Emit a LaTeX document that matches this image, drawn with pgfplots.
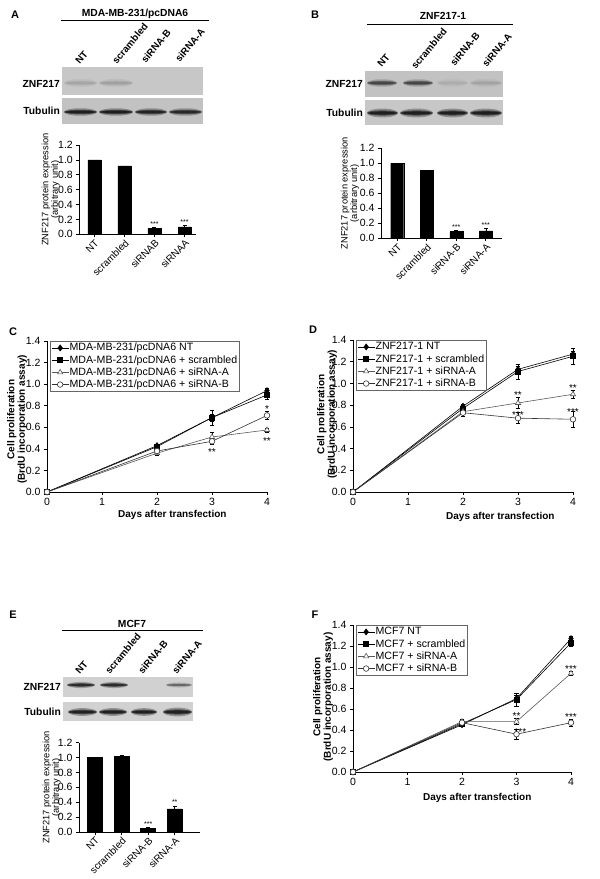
\documentclass[border=0pt]{standalone}
\usepackage{fontspec}
\setmainfont{Liberation Sans}
\usepackage{pgfplots}
\pgfplotsset{compat=1.18}
\newcommand{\fs}[1]{\fontsize{#1}{#1}\selectfont}
\pgfplotsset{
  common/.style={
    scale only axis, anchor=south west, clip=false,
    axis x line=bottom, axis y line=left,
    axis line style={-, line width=0.8pt, black},
    tick align=outside, major tick length=3pt,
    tick style={black, line width=0.6pt},
    tick label style={font=\fs{10.5}},
    /pgf/number format/assume math mode=true,
    yticklabel style={/pgf/number format/.cd, fixed, fixed zerofill, precision=1},
    ymin=0,
  },
  barax/.style={common, ymax=1.2, ytick={0,0.2,0.4,0.6,0.8,1.0,1.2},
    xtick={0,1,2,3},
    xticklabel style={rotate=45, anchor=north east, inner sep=1pt, font=\fs{10}},
    ylabel={ZNF217 protein expression\\(arbitrary unit)},
    ylabel style={align=center, font=\fontsize{9.3}{9.6}\selectfont, anchor=center},
  },
  lineax/.style={common, xmin=0, xmax=4, ymax=1.4,
    xtick={0,1,2,3,4}, ytick={0,0.2,0.4,0.6,0.8,1.0,1.2,1.4},
    xlabel={Days after transfection}, xlabel style={font=\bfseries\fs{10}, anchor=center},
    ylabel={Cell proliferation\\(BrdU incorporation assay)},
    ylabel style={align=center, font=\bfseries\fontsize{10}{10.5}\selectfont, anchor=center},
    legend style={at={(0.014,1)}, anchor=north west, draw=black!60, line width=0.5pt, fill=white, font=\fs{10.6}, row sep=0.8pt, inner sep=1pt, nodes={inner sep=0.6pt, text height=8pt, text depth=2.2pt}},
    legend cell align=left,
  },
  nt/.style={black, line width=0.6pt, mark=diamond*, mark size=3pt, mark options={fill=black, solid}},
  sc/.style={black, line width=0.6pt, mark=square*, mark size=2.5pt, mark options={fill=black, solid}},
  sa/.style={black!65, line width=0.6pt, mark=triangle*, mark size=3pt, mark options={fill=white, draw=black!65, solid}},
  sb/.style={black!80, line width=0.6pt, mark=*, mark size=2.8pt, mark options={fill=white, draw=black!80, solid}},
  eb/.style={error bars/.cd, y dir=both, y explicit, error bar style={black, line width=0.5pt}, error mark options={rotate=90, mark size=2.2pt, black, line width=0.5pt}},
  bb/.style={ybar, fill=black, draw=black, error bars/.cd, y dir=plus, y explicit, error bar style={black, line width=0.5pt}, error mark options={rotate=90, mark size=2pt, black, line width=0.5pt}},
}
% band: x1 x2 y halfheight strength
\newcommand{\band}[5]{%
  \pgfmathsetmacro\bx{(#1+#2)/2}%
  \pgfmathsetmacro\brx{(#2-#1)/2}%
  \pgfmathsetmacro\brxb{(#2-#1)/2*0.92}%
  \pgfmathsetmacro\bya{#4*1.7}%
  \pgfmathsetmacro\byc{#4*0.6}%
  \pgfmathsetmacro\oa{#5*0.3}%
  \pgfmathsetmacro\ob{#5*0.5}%
  \pgfmathsetmacro\oc{#5*0.6}%
  \fill[black, opacity=\oa] (\bx,#3) ellipse [x radius=\brx pt, y radius=\bya pt];
  \fill[black, opacity=\ob] (\bx,#3) ellipse [x radius=\brx pt, y radius=#4 pt];
  \fill[black, opacity=\oc] (\bx,#3) ellipse [x radius=\brxb pt, y radius=\byc pt];
}
\begin{document}
\begin{tikzpicture}[x=1pt,y=1pt]
\path[use as bounding box] (0,0) rectangle (600,879);
% ---------- panel letters ----------
\node[font=\bfseries\fs{11}] at (15,864) {A};
\node[font=\bfseries\fs{11}] at (315,864) {B};
\node[font=\bfseries\fs{11}] at (13,547) {C};
\node[font=\bfseries\fs{11}] at (313,549) {D};
\node[font=\bfseries\fs{11}] at (13,264) {E};
\node[font=\bfseries\fs{11}] at (315,264) {F};
% ---------- titles ----------
\node[font=\bfseries\fs{10.3}] at (135,865) {MDA-MB-231/pcDNA6};
\draw[line width=0.7pt] (61,858.3) -- (209,858.3);
\node[font=\bfseries\fs{10.3}] at (443,863.5) {ZNF217-1};
\draw[line width=0.7pt] (367,855) -- (513,855);
\node[font=\bfseries\fs{10.3}] at (132,255.5) {MCF7};
\draw[line width=0.7pt] (62,249) -- (203,249);
% ---------- lane labels ----------
\begin{scope}[every node/.style={rotate=50, anchor=south west, font=\bfseries\fs{9.8}, inner sep=0pt}]
\node at (80,814) {NT}; \node at (117,814) {scrambled}; \node at (146,815) {siRNA-B}; \node at (180,816) {siRNA-A};
\node at (382,811) {NT}; \node at (416,809) {scrambled}; \node at (455,812) {siRNA-B}; \node at (487,811) {siRNA-A};
\node at (80,204) {NT}; \node at (110,204) {scrambled}; \node at (143,204) {siRNA-B}; \node at (177,204) {siRNA-A};
\end{scope}
% ---------- blot labels ----------
\begin{scope}[every node/.style={anchor=east, font=\bfseries\fs{10.3}, inner sep=1pt}]
\node at (61,795) {ZNF217}; \node at (61,768) {Tubulin};
\node at (364,795) {ZNF217}; \node at (364,766) {Tubulin};
\node at (62,192) {ZNF217}; \node at (62,167) {Tubulin};
\end{scope}
% ---------- blots ----------
\fill[black!22] (62,784) rectangle (203,812);
\fill[black!24] (62,755) rectangle (203,781);
\band{64}{97}{796}{2.5}{0.12}\band{99}{133}{796}{2.5}{0.14}
\band{64}{97}{767}{2.2}{0.95}\band{99}{133}{767}{2.2}{0.95}\band{135}{167}{767}{2.2}{0.9}\band{169}{202}{767}{2.2}{0.85}
\fill[black!24] (365,782) rectangle (503,808);
\fill[black!22] (365,754) rectangle (503,779);
\band{367}{397}{796}{2.2}{0.6}\band{403}{433}{796}{2.2}{0.6}\band{437}{468}{796}{2.5}{0.08}\band{470}{502}{796}{2.5}{0.12}
\band{367}{398}{766}{2.6}{0.95}\band{400}{433}{766}{2.6}{0.95}\band{437}{468}{766}{2.6}{0.95}\band{470}{502}{766}{2.6}{0.95}
\fill[black!18] (63,182) rectangle (193,202);
\fill[black!18] (63,158) rectangle (193,177);
\band{67}{95}{194}{1.8}{0.85}\band{100}{128}{194}{1.8}{0.85}\band{166}{192}{194}{1.5}{0.45}
\band{68}{97}{167}{2.3}{0.95}\band{99}{127}{167}{2.3}{0.95}\band{131}{157}{167}{2.3}{0.95}\band{163}{192}{167}{2.6}{0.95}
% ---------- bar chart A ----------
\begin{axis}[barax, at={(79.3pt,644.7pt)}, width=116.7pt, height=89.3pt, xmin=-0.5, xmax=3.38,
  xticklabels={NT,scrambled,siRNAB,siRNAA},
  ylabel style={at={(axis description cs:-0.245,0.5)}}]
\addplot[bar width=13pt, bb] coordinates {(0,1.00) +- (0,0) (1,0.92) +- (0,0) (2,0.08) +- (0,0.02) (3,0.10) +- (0,0.02)};
\node[font=\fs{7}] at (axis cs:2,0.14) {***};
\node[font=\fs{7}] at (axis cs:3,0.16) {***};
\end{axis}
% ---------- bar chart B ----------
\begin{axis}[barax, at={(381pt,640.7pt)}, width=120.7pt, height=90pt, xmin=-0.55, xmax=3.54,
  xticklabels={NT,scrambled,siRNA-B,siRNA-A},
  ylabel style={at={(axis description cs:-0.257,0.5)}}]
\addplot[bar width=13pt, bb] coordinates {(0,1.00) +- (0,0) (1,0.91) +- (0,0) (2,0.09) +- (0,0.02) (3,0.10) +- (0,0.03)};
\node[font=\fs{7}] at (axis cs:2,0.15) {***};
\node[font=\fs{7}] at (axis cs:3,0.17) {***};
\end{axis}
% ---------- bar chart E ----------
\begin{axis}[barax, at={(79pt,47pt)}, width=121pt, height=89.3pt, xmin=-0.6, xmax=3.95,
  xticklabels={NT,scrambled,siRNA-B,siRNA-A},
  ylabel style={at={(axis description cs:-0.225,0.5)}}]
\addplot[bar width=15pt, bb] coordinates {(0,1.00) +- (0,0) (1,1.02) +- (0,0.01) (2,0.05) +- (0,0.02) (3,0.31) +- (0,0.04)};
\node[font=\fs{7}] at (axis cs:2,0.11) {***};
\node[font=\fs{7}] at (axis cs:3,0.40) {**};
\end{axis}
% ---------- line chart C ----------
\begin{axis}[lineax, at={(47pt,387pt)}, width=220pt, height=151pt,
  xlabel style={at={(axis description cs:0.57,-0.15)}},
  ylabel style={at={(axis description cs:-0.136,0.48)}}]
\addplot[nt, eb] coordinates {(0,0)+-(0,0) (2,0.43)+-(0,0.01) (3,0.69)+-(0,0.03) (4,0.94)+-(0,0.02)};
\addplot[sc, eb] coordinates {(0,0)+-(0,0.02) (2,0.42)+-(0,0.01) (3,0.69)+-(0,0.07) (4,0.90)+-(0,0.04)};
\addplot[sa, eb] coordinates {(0,0)+-(0,0) (2,0.36)+-(0,0.02) (3,0.51)+-(0,0.04) (4,0.575)+-(0,0.02)};
\addplot[sb, eb] coordinates {(0,0)+-(0,0) (2,0.38)+-(0,0.02) (3,0.47)+-(0,0.03) (4,0.71)+-(0,0.04)};
\legend{MDA-MB-231/pcDNA6 NT, MDA-MB-231/pcDNA6 + scrambled, MDA-MB-231/pcDNA6 + siRNA-A, MDA-MB-231/pcDNA6 + siRNA-B}
\node[font=\fs{10}] at (axis cs:4,0.77) {*};
\node[font=\fs{10}] at (axis cs:3,0.37) {**};
\node[font=\fs{10}] at (axis cs:4,0.47) {**};
\end{axis}
% ---------- line chart D ----------
\begin{axis}[lineax, at={(353pt,387pt)}, width=220pt, height=152pt,
  xlabel style={at={(axis description cs:0.67,-0.164)}},
  ylabel style={at={(axis description cs:-0.118,0.51)}}]
\addplot[nt, eb] coordinates {(0,0)+-(0,0) (2,0.79)+-(0,0.02) (3,1.13)+-(0,0.03) (4,1.27)+-(0,0.03)};
\addplot[sc, eb] coordinates {(0,0)+-(0,0.02) (2,0.77)+-(0,0.03) (3,1.11)+-(0,0.07) (4,1.25)+-(0,0.07)};
\addplot[sa, eb] coordinates {(0,0)+-(0,0) (2,0.74)+-(0,0.02) (3,0.82)+-(0,0.05) (4,0.90)+-(0,0.04)};
\addplot[sb, eb] coordinates {(0,0)+-(0,0) (2,0.73)+-(0,0.03) (3,0.68)+-(0,0.05) (4,0.67)+-(0,0.07)};
\legend{ZNF217-1 NT, ZNF217-1 + scrambled, ZNF217-1 + siRNA-A, ZNF217-1 + siRNA-B}
\node[font=\fs{10}] at (axis cs:3,0.89) {**};
\node[font=\fs{10}] at (axis cs:3,0.71) {***};
\node[font=\fs{10}] at (axis cs:4,0.955) {**};
\node[font=\fs{10}] at (axis cs:4,0.74) {***};
\end{axis}
% ---------- line chart F ----------
\begin{axis}[lineax, at={(353pt,107pt)}, width=218pt, height=147pt,
  xlabel style={at={(axis description cs:0.57,-0.177)}},
  ylabel style={at={(axis description cs:-0.138,0.51)}}]
\addplot[nt, eb] coordinates {(0,0)+-(0,0) (2,0.45)+-(0,0.01) (3,0.70)+-(0,0.03) (4,1.27)+-(0,0.02)};
\addplot[sc, eb] coordinates {(0,0)+-(0,0) (2,0.46)+-(0,0.02) (3,0.69)+-(0,0.06) (4,1.23)+-(0,0.03)};
\addplot[sa, eb] coordinates {(0,0)+-(0,0) (2,0.48)+-(0,0.02) (3,0.48)+-(0,0.03) (4,0.94)+-(0,0.02)};
\addplot[sb, eb] coordinates {(0,0)+-(0,0) (2,0.47)+-(0,0.03) (3,0.36)+-(0,0.05) (4,0.47)+-(0,0.03)};
\legend{MCF7 NT, MCF7 + scrambled, MCF7 + siRNA-A, MCF7 + siRNA-B}
\node[font=\fs{10}] at (axis cs:3,0.53) {**};
\node[font=\fs{10}] at (axis cs:3.07,0.38) {***};
\node[font=\fs{10}] at (axis cs:4,0.98) {***};
\node[font=\fs{10}] at (axis cs:4,0.52) {***};
\end{axis}
\end{tikzpicture}
\end{document}
